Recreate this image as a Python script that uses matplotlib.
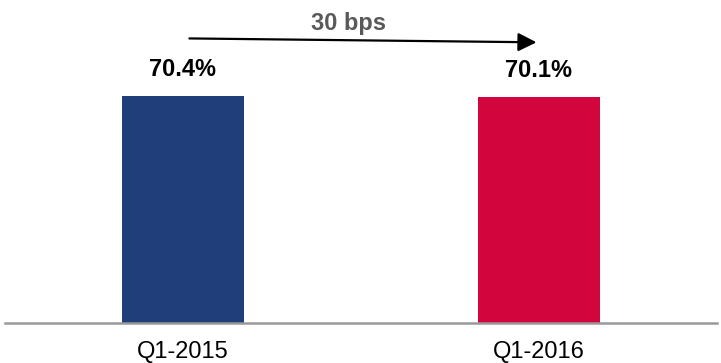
import matplotlib.pyplot as plt

plt.rcParams['font.family'] = ['Liberation Sans', 'DejaVu Sans']

# data
quarters = ["Q1-2015", "Q1-2016"]
margin = [70.4, 70.1]
value_labels = ["70.4%", "70.1%"]
change_label = "30 bps"

bar_colors = ['#1F3E7A', '#D2063C']

fig = plt.figure(figsize=(7.21, 3.63), dpi=100)
ax = fig.add_axes([5 / 721, 40 / 363, 712 / 721, 323 / 363])

x = range(len(quarters))
ax.bar(x, margin, width=0.34, color=bar_colors)

# value labels above the bars
for i, value in enumerate(margin):
    ax.annotate(value_labels[i], (i, value), xytext=(0, 18.5), textcoords='offset points',
                ha='center', va='center', fontsize=17, fontweight='bold', color='black')

# change arrow between the two quarters
ax.annotate('', xy=(0.993, margin[1] + 16.8), xytext=(0.018, margin[0] + 17.7),
            arrowprops=dict(arrowstyle='-|>', mutation_scale=28, lw=1.6, color='black',
                            shrinkA=0, shrinkB=0))
ax.text(0.466, margin[0] + 22.3, change_label, ha='center', va='center',
        fontsize=17, fontweight='bold', color='#595959')

ax.set_xlim(-0.5, 1.5)
ax.set_ylim(0, 100)
ax.set_xticks(list(x))
ax.set_xticklabels(quarters, fontsize=17)
ax.tick_params(axis='x', length=0, pad=13)
ax.set_yticks([])

for side in ['top', 'right', 'left']:
    ax.spines[side].set_visible(False)
ax.spines['bottom'].set_color('#999999')
ax.spines['bottom'].set_linewidth(1.8)

fig.savefig('out.png', dpi=100)
